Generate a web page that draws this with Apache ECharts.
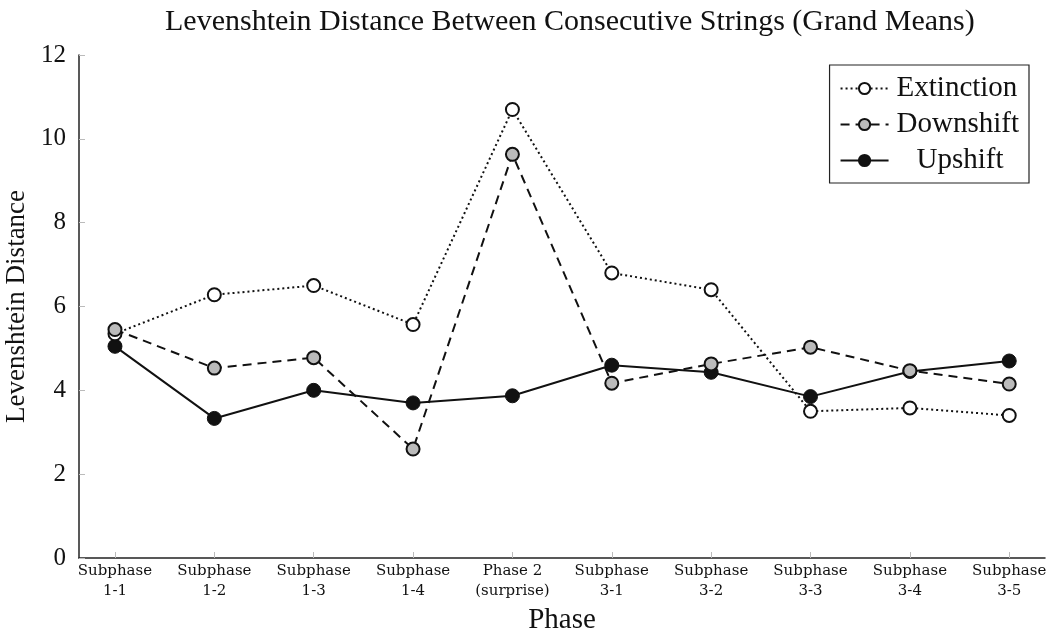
<!DOCTYPE html>
<html>
<head>
<meta charset="utf-8">
<script src="https://cdn.jsdelivr.net/npm/echarts@6/dist/echarts.min.js"></script>
<style>
  html, body { margin: 0; padding: 0; background: #fff; }
  #chart { width: 1050px; height: 638px; }
</style>
</head>
<body>
<div id="chart"></div>
<script>
const categories = ['Subphase\n1-1', 'Subphase\n1-2', 'Subphase\n1-3', 'Subphase\n1-4', 'Phase 2\n(surprise)',
  'Subphase\n3-1', 'Subphase\n3-2', 'Subphase\n3-3', 'Subphase\n3-4', 'Subphase\n3-5']
const extinction = [5.35, 6.28, 6.5, 5.57, 10.7, 6.8, 6.4, 3.5, 3.58, 3.4]
const downshift = [5.45, 4.53, 4.78, 2.6, 9.63, 4.17, 4.63, 5.03, 4.47, 4.15]
const upshift = [5.05, 3.33, 4.0, 3.7, 3.87, 4.6, 4.43, 3.85, 4.45, 4.7]
const yTicks = [0, 2, 4, 6, 8, 10, 12]

const serif = 'Liberation Serif'
const ink = '#111'

// x is a value axis so the first category can sit a little off the y axis
const toPoints = arr => arr.map((v, i) => [i, v])
const catIdx = categories.map((c, i) => i)

const chart = echarts.init(document.getElementById('chart'))
chart.setOption({
  animation: false,
  title: {
    text: 'Levenshtein Distance Between Consecutive Strings (Grand Means)',
    left: 160,
    top: 2,
    textStyle: { fontFamily: serif, fontWeight: 'normal', fontSize: 30, color: ink }
  },
  legend: {
    right: 21,
    top: 65,
    orient: 'vertical',
    itemWidth: 48,
    itemHeight: 14,
    itemGap: 7,
    padding: [9, 10, 8, 10],
    borderColor: '#222',
    borderWidth: 1.2,
    // the pgfplots legend centres its entries, so Upshift sits a bit inward
    formatter: name => name === 'Upshift' ? '{u|' + name + '}' : name,
    textStyle: {
      fontFamily: serif, fontSize: 29, color: ink, padding: [0, 0, 0, 3],
      rich: { u: { fontFamily: serif, fontSize: 29, color: ink, padding: [0, 0, 0, 20] } }
    },
    data: ['Extinction', 'Downshift', 'Upshift']
  },
  grid: { left: 79, right: 5, top: 55, bottom: 80, outerBoundsMode: 'none' },
  xAxis: {
    type: 'value',
    min: -0.362,
    max: 9.36,
    interval: 1,
    name: 'Phase',
    nameLocation: 'middle',
    nameGap: 48,
    nameTextStyle: { fontFamily: serif, fontSize: 29, color: ink },
    splitLine: { show: false },
    axisLine: { onZero: false, lineStyle: { color: '#222', width: 1.5 } },
    axisTick: { inside: true, length: 6, lineStyle: { color: '#bbb' }, customValues: catIdx },
    axisLabel: {
      customValues: catIdx,
      formatter: v => categories[Math.round(v)] || '',
      fontFamily: 'DejaVu Serif', fontSize: 15, color: ink, lineHeight: 20, margin: 3
    }
  },
  yAxis: {
    type: 'value',
    min: 0,
    max: 12,
    interval: 2,
    name: 'Levenshtein Distance',
    nameLocation: 'middle',
    nameGap: 48,
    nameTextStyle: { fontFamily: serif, fontSize: 27, color: ink },
    splitLine: { show: false },
    axisLine: { show: true, onZero: false, lineStyle: { color: '#222', width: 1.5 } },
    axisTick: { show: true, inside: true, length: 6, lineStyle: { color: '#bbb' } },
    axisLabel: {
      formatter: v => yTicks.includes(v) ? String(v) : '',
      fontFamily: serif, fontSize: 25, color: ink, margin: 13
    }
  },
  series: [
    {
      name: 'Extinction',
      type: 'line',
      data: toPoints(extinction),
      symbol: 'circle',
      symbolSize: 13,
      lineStyle: { color: ink, width: 2, type: [2, 3] },
      itemStyle: { color: '#fff', borderColor: ink, borderWidth: 2 },
      z: 3
    },
    {
      name: 'Downshift',
      type: 'line',
      data: toPoints(downshift),
      symbol: 'circle',
      symbolSize: 13,
      lineStyle: { color: ink, width: 2, type: [9, 6] },
      itemStyle: { color: '#bbb', borderColor: ink, borderWidth: 2 },
      z: 4
    },
    {
      name: 'Upshift',
      type: 'line',
      data: toPoints(upshift),
      symbol: 'circle',
      symbolSize: 14,
      lineStyle: { color: ink, width: 2 },
      itemStyle: { color: ink, borderColor: ink, borderWidth: 1 },
      z: 2
    }
  ]
})
</script>
</body>
</html>
